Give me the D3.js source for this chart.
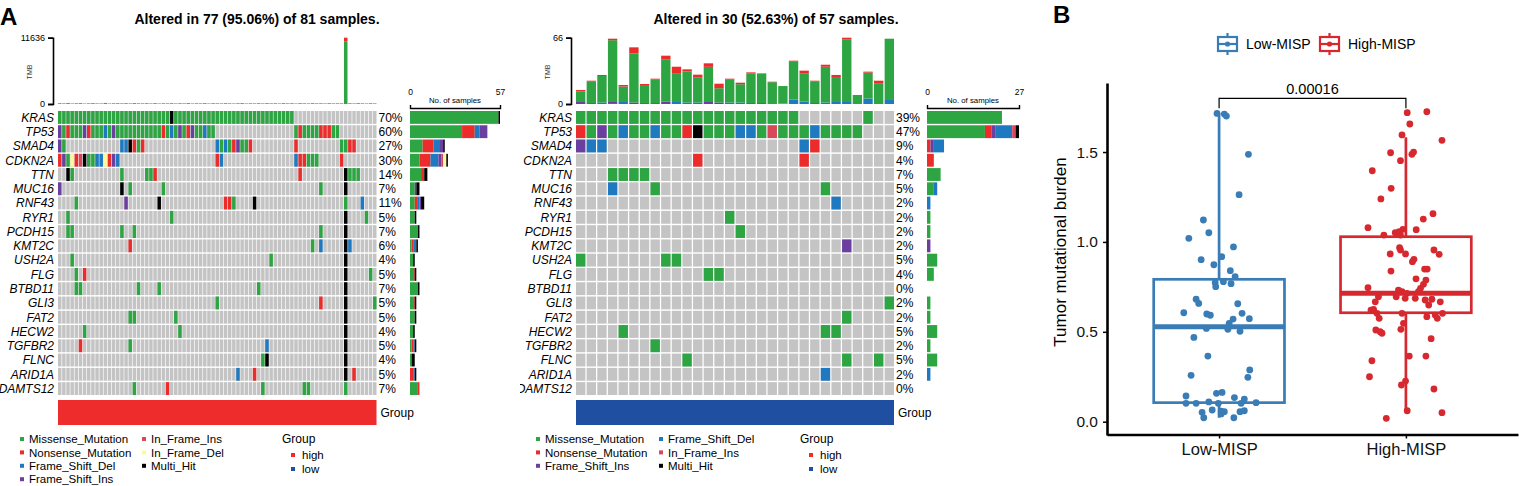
<!DOCTYPE html>
<html>
<head>
<meta charset="utf-8">
<script src="https://cdn.jsdelivr.net/npm/d3@7"></script>
<style>
  body { margin: 0; background: #fff; }
  text { font-family: "Liberation Sans", Arial, Helvetica, sans-serif; }
</style>
</head>
<body>
<svg id="fig" width="1519" height="486"></svg>
<script>
// ---------- data ----------
var genes = ["KRAS","TP53","SMAD4","CDKN2A","TTN","MUC16","RNF43","RYR1","PCDH15","KMT2C",
             "USH2A","FLG","BTBD11","GLI3","FAT2","HECW2","TGFBR2","FLNC","ARID1A","ADAMTS12"];

// variant classes: M missense, N nonsense, D frame shift del, I frame shift ins,
// R in frame ins, L in frame del, H multi hit
var vcNames = {M:"Missense_Mutation", N:"Nonsense_Mutation", D:"Frame_Shift_Del", I:"Frame_Shift_Ins",
               R:"In_Frame_Ins", L:"In_Frame_Del", H:"Multi_Hit"};
var vcColors = {M:"#2ea543", N:"#ec2b2b", D:"#1f79c0", I:"#6b3f9f", R:"#d9475b", L:"#fafa9c", H:"#000000"};

// high group: 81 samples, 77 altered -> [from col, to col, class] per gene
var mutHigh = [
  [[0,26,"M"],[27,27,"H"],[28,56,"M"]],
  [[0,0,"I"],[1,1,"M"],[2,2,"N"],[3,5,"M"],[6,6,"I"],[7,7,"N"],[8,10,"M"],[11,11,"D"],[12,12,"M"],
   [13,13,"I"],[14,24,"M"],[25,25,"N"],[26,26,"M"],[27,27,"D"],[28,28,"M"],[29,29,"I"],[30,30,"M"],
   [31,31,"N"],[32,32,"I"],[33,34,"M"],[35,35,"D"],[36,37,"M"],[57,57,"M"],[58,58,"N"],[59,62,"M"],
   [63,65,"N"],[66,67,"M"]],
  [[0,0,"I"],[1,1,"M"],[15,16,"D"],[17,17,"H"],[18,18,"N"],[19,19,"M"],[20,20,"N"],[38,38,"D"],
   [39,39,"M"],[40,40,"D"],[41,41,"M"],[42,42,"N"],[43,43,"I"],[44,45,"M"],[46,46,"N"],[57,57,"N"],
   [68,69,"M"],[70,71,"N"]],
  [[0,0,"N"],[1,1,"I"],[2,2,"M"],[3,3,"L"],[4,4,"N"],[5,5,"R"],[6,6,"H"],[7,8,"M"],[9,10,"D"],
   [11,11,"L"],[12,12,"N"],[13,13,"I"],[14,14,"D"],[38,38,"N"],[39,39,"D"],[57,57,"D"],[58,59,"N"],
   [60,62,"M"],[68,68,"N"]],
  [[2,2,"H"],[3,3,"M"],[15,15,"M"],[21,22,"M"],[23,23,"N"],[58,58,"N"],[69,69,"H"],[70,72,"M"]],
  [[0,0,"I"],[15,15,"H"],[17,17,"M"],[25,25,"M"],[63,63,"M"],[69,69,"H"]],
  [[4,4,"M"],[16,16,"I"],[24,24,"H"],[40,41,"N"],[42,42,"M"],[47,47,"H"],[69,69,"M"],[73,73,"D"]],
  [[2,2,"M"],[27,27,"M"],[69,69,"H"],[74,74,"M"]],
  [[2,3,"M"],[15,15,"M"],[18,18,"M"],[63,63,"M"],[69,69,"H"]],
  [[17,17,"N"],[61,61,"M"],[63,63,"D"],[69,69,"H"],[70,70,"D"]],
  [[3,3,"M"],[51,51,"M"],[69,69,"H"]],
  [[4,4,"M"],[6,6,"N"],[69,69,"H"],[75,75,"M"]],
  [[4,5,"M"],[19,19,"M"],[24,24,"M"],[48,48,"M"],[69,69,"H"]],
  [[38,38,"M"],[63,63,"N"],[69,69,"H"],[76,76,"M"]],
  [[17,18,"M"],[28,28,"M"],[69,69,"H"]],
  [[6,6,"M"],[29,29,"M"],[69,69,"H"]],
  [[5,5,"N"],[17,17,"M"],[50,50,"D"],[69,69,"H"]],
  [[49,49,"M"],[50,50,"H"],[69,69,"H"]],
  [[43,43,"D"],[47,47,"N"],[69,69,"H"],[71,71,"N"]],
  [[18,18,"M"],[26,26,"N"],[49,49,"M"],[59,60,"M"],[69,69,"M"]]
];

// low group: 57 samples, 30 altered
var mutLow = [
  [[0,20,"M"],[27,27,"M"]],
  [[0,0,"N"],[1,1,"M"],[2,2,"I"],[3,3,"M"],[4,4,"D"],[5,6,"M"],[7,7,"D"],[8,9,"M"],[10,10,"N"],
   [11,11,"H"],[12,14,"M"],[15,16,"D"],[17,17,"M"],[18,18,"R"],[19,21,"M"],[22,22,"D"],[23,26,"M"]],
  [[0,0,"I"],[1,2,"D"],[21,21,"D"],[22,22,"N"]],
  [[11,11,"N"],[21,21,"N"]],
  [[3,6,"M"]],
  [[3,3,"D"],[7,7,"M"],[23,23,"M"]],
  [[24,24,"D"]],
  [[14,14,"M"]],
  [[15,15,"M"]],
  [[25,25,"I"]],
  [[0,0,"M"],[8,9,"M"]],
  [[12,13,"M"]],
  [],
  [[29,29,"M"]],
  [[25,25,"M"]],
  [[4,4,"M"],[23,24,"M"]],
  [[7,7,"M"]],
  [[10,10,"M"],[25,25,"M"],[28,28,"M"]],
  [[23,23,"D"]],
  []
];

// TMB per altered sample (stacked by class)
var tmbHighMis = [120, 95, 150, 80, 110, 140, 70, 100, 130, 90,
                  85, 160, 75, 105, 115, 95, 125, 88, 140, 102,
                  96, 118, 84, 132, 76, 108, 99, 121, 87, 113,
                  94, 137, 81, 106, 92, 128, 79, 117, 101, 89,
                  124, 97, 83, 111, 135, 78, 104, 91, 119, 86,
                  127, 93, 109, 82, 131, 98, 114, 77, 122, 100,
                  88, 126, 95, 107, 84, 118, 90, 103, 96, 10950,
                  112, 85, 129, 97, 80, 116, 92];
var tmbHighNon = [20, 15, 30, 10, 25, 18, 12, 22, 28, 16,
                  14, 26, 11, 19, 24, 17, 21, 13, 27, 15,
                  18, 23, 12, 25, 14, 20, 16, 22, 13, 19,
                  17, 24, 12, 21, 15, 26, 11, 20, 18, 14,
                  23, 16, 13, 19, 25, 12, 20, 15, 22, 14,
                  24, 17, 19, 13, 26, 16, 21, 12, 23, 18,
                  15, 22, 17, 19, 13, 24, 16, 20, 18, 686,
                  21, 14, 25, 17, 12, 22, 16];
var tmbLowMis = [10.4, 21.2, 26.4, 61.5, 15.4, 48.9, 17.9, 23.2, 42.1, 28.1,
                 31.0, 24.7, 35.0, 14.2, 22.7, 18.2, 29.5, 29.5, 21.7, 17.4,
                 37.6, 27.7, 21.2, 35.6, 24.9, 62.5, 9.0, 25.7, 20.7, 61.0];
var tmbLowNon = [1.5, 1, 1, 1.5, 1.5, 6, 1, 1, 3.5, 7,
                 2, 3, 3.5, 4.5, 1, 1.5, 1, 0, 0.5, 0,
                 1, 3, 1, 2, 2, 1.5, 0, 1, 2.5, 0];
var tmbLowDel = [0, 1, 1.5, 1, 2, 0, 1, 1, 0, 2,
                 1.5, 1.5, 0, 0, 1.5, 1.5, 1, 1, 0, 0.5,
                 4.5, 2.5, 1, 1.5, 2, 2, 0, 5.5, 0, 4];
var tmbLowIns = [2, 0, 0, 1, 0, 1.5, 0, 0, 2.5, 0,
                 0, 0, 2, 1.5, 0, 0, 0, 0, 0, 0,
                 0, 0, 0, 0, 0, 0, 0, 0, 0, 0];

// panel B
var groupsB = ["Low-MISP", "High-MISP"];
var colorsB = ["#3a7cb6", "#d7282f"];
var boxLo  = [0.022, 0.047];
var boxQ1  = [0.106, 0.606];
var boxMed = [0.528, 0.714];
var boxQ3  = [0.792, 1.029];
var boxHi  = [1.715, 1.582];
var pValue = "0.00016";
var tmbB_low = [1.715,1.711,1.700,1.487,1.263,1.122,1.051,1.020,0.972,0.901,0.918,0.873,0.840,0.807,
  0.773,0.751,0.779,0.768,0.681,0.658,0.656,0.606,0.599,0.592,0.603,0.571,0.573,0.547,0.519,0.514,
  0.503,0.469,0.365,0.288,0.247,0.258,0.158,0.163,0.143,0.134,0.126,0.102,0.102,0.110,0.102,0.106,
  0.065,0.052,0.059,0.056,0.056,0.061,0.022,0.022,0.043,0.102];
var jitB_low = [-0.011,0.028,0.039,0.157,0.107,-0.084,-0.055,-0.162,0.077,-0.096,0.014,-0.028,0.060,0.086,
  -0.021,-0.018,0.023,0.064,-0.123,-0.109,0.100,-0.189,-0.066,-0.047,0.123,0.075,0.162,0.054,-0.068,0.047,
  0.112,-0.135,-0.060,0.164,0.154,-0.150,-0.014,0.016,-0.177,0.082,0.135,-0.177,-0.123,-0.055,0.118,0.198,
  -0.037,-0.091,0.011,0.028,0.112,0.135,-0.082,0.079,0.011,-0.004];
var tmbB_high = [1.719,1.724,1.656,1.595,1.565,1.496,1.487,1.500,1.452,1.396,1.298,1.239,1.157,1.127,
  1.079,1.068,1.051,1.057,1.070,1.038,1.038,0.968,0.955,0.933,0.933,0.955,0.931,0.903,0.890,0.849,
  0.849,0.838,0.795,0.788,0.764,0.745,0.742,0.732,0.723,0.723,0.714,0.695,0.686,0.686,0.695,0.667,
  0.677,0.681,0.667,0.649,0.625,0.621,0.603,0.603,0.593,0.603,0.575,0.584,0.575,0.547,0.510,0.492,
  0.501,0.514,0.462,0.365,0.365,0.339,0.250,0.226,0.204,0.182,0.061,0.050,0.019];
var jitB_high = [0.007,0.112,0.021,-0.021,0.193,-0.082,0.032,0.041,-0.029,-0.180,-0.079,-0.134,0.145,0.093,
  -0.203,0.055,-0.057,-0.036,-0.016,-0.118,-0.029,-0.034,-0.029,-0.084,-0.002,0.150,0.178,0.043,0.035,0.100,
  0.114,-0.080,0.054,0.107,0.094,-0.203,0.078,-0.040,-0.021,0.067,0.005,-0.052,-0.004,0.050,-0.147,-0.164,
  0.103,0.139,0.184,0.122,-0.173,-0.187,-0.155,-0.021,0.157,0.196,-0.143,0.112,0.168,-0.013,-0.161,-0.128,
  -0.138,-0.027,0.135,0.018,0.107,-0.182,-0.195,-0.002,-0.024,0.150,0.007,0.193,-0.105];

// ---------- drawing ----------
var svg = d3.select("#fig");
var defs = svg.append("defs");
defs.append("clipPath").attr("id", "clipR")
  .append("rect").attr("x", 520).attr("y", 0).attr("width", 515).attr("height", 486);

var rowTop = 111, rowBot = 395;

function oncoplot(p) {
  var g = svg.append("g");
  if (p.clip) g.attr("clip-path", "url(#" + p.clip + ")");
  var nCols = p.tmb.M.length;
  var xb = d3.scaleBand().domain(d3.range(nCols)).range([p.x0, p.x1]).paddingInner(p.colPad);
  var yb = d3.scaleBand().domain(genes).range([rowTop, rowBot]).paddingInner(0.1);

  // title
  g.append("text").attr("x", p.titleX).attr("y", 24).attr("text-anchor", "middle")
    .attr("font-size", 14).attr("font-weight", "bold").text(p.title);

  // TMB stacked bars
  var keys = ["D", "I", "M", "N"];
  var rows = d3.range(nCols).map(function(i) {
    var o = {col: i};
    keys.forEach(function(k) { o[k] = p.tmb[k] ? p.tmb[k][i] : 0; });
    return o;
  });
  var tmbMax = d3.max(rows, function(r) { return r.D + r.I + r.M + r.N; });
  var yt = d3.scaleLinear().domain([0, tmbMax]).range([104, 37.7]);
  d3.stack().keys(keys)(rows).forEach(function(s) {
    g.append("g").selectAll("rect").data(s).join("rect")
      .attr("x", function(d) { return xb(d.data.col); })
      .attr("width", xb.bandwidth())
      .attr("y", function(d) { return yt(d[1]); })
      .attr("height", function(d) { return Math.max(0, yt(d[0]) - yt(d[1])); })
      .attr("fill", vcColors[s.key]);
  });
  var ax = g.append("g").attr("transform", "translate(" + (p.x0 - 5) + ",0)")
    .call(d3.axisLeft(yt).tickValues([0, tmbMax]).tickFormat(d3.format("d")).tickSize(5).tickSizeOuter(5).tickPadding(3));
  ax.select(".domain").attr("stroke-width", 1.6);
  ax.selectAll(".tick line").attr("stroke-width", 1.6);
  ax.selectAll("text").attr("font-size", 9).attr("font-family", "Liberation Sans, Arial, sans-serif");
  g.append("text").attr("transform", "translate(" + (p.x0 - 26) + ",72) rotate(-90)")
    .attr("text-anchor", "middle").attr("font-size", 7).attr("fill", "#333").text("TMB");

  // background cells
  var cells = [];
  genes.forEach(function(gn) { d3.range(nCols).forEach(function(c) { cells.push({gene: gn, col: c}); }); });
  g.append("g").selectAll("rect").data(cells).join("rect")
    .attr("x", function(d) { return xb(d.col); }).attr("y", function(d) { return yb(d.gene); })
    .attr("width", xb.bandwidth()).attr("height", yb.bandwidth()).attr("fill", "#c4c4c4");

  // mutation cells
  var muts = [];
  p.muts.forEach(function(list, gi) {
    list.forEach(function(m) {
      for (var c = m[0]; c <= m[1]; c++) muts.push({gene: genes[gi], col: c, type: m[2]});
    });
  });
  g.append("g").selectAll("rect").data(muts).join("rect")
    .attr("x", function(d) { return xb(d.col); }).attr("y", function(d) { return yb(d.gene); })
    .attr("width", xb.bandwidth()).attr("height", yb.bandwidth())
    .attr("fill", function(d) { return vcColors[d.type]; });

  // gene labels and percentages
  var counts = d3.rollup(muts, function(v) { return v.length; }, function(d) { return d.gene; });
  g.append("g").selectAll("text").data(genes).join("text")
    .attr("x", p.x0 - 4).attr("y", function(d) { return yb(d) + yb.bandwidth() / 2; })
    .attr("dy", "0.36em").attr("text-anchor", "end").attr("font-size", 12).attr("font-style", "italic")
    .text(function(d) { return d; });
  g.append("g").selectAll("text").data(genes).join("text")
    .attr("x", p.x1 + 2).attr("y", function(d) { return yb(d) + yb.bandwidth() / 2; })
    .attr("dy", "0.36em").attr("font-size", 12)
    .text(function(d) { return Math.round((counts.get(d) || 0) / p.nSamples * 100) + "%"; });

  // side bars: number of samples by class
  var order = p.legend[0].concat(p.legend[1]);
  var maxCount = d3.max(genes, function(d) { return counts.get(d) || 0; });
  var xs = d3.scaleLinear().domain([0, maxCount]).range([p.sx0, p.sx1]);
  var segs = [];
  genes.forEach(function(gn) {
    var acc = 0;
    order.forEach(function(t) {
      var n = muts.filter(function(m) { return m.gene === gn && m.type === t; }).length;
      if (n > 0) { segs.push({gene: gn, type: t, a: acc, b: acc + n}); acc += n; }
    });
  });
  g.append("g").selectAll("rect").data(segs).join("rect")
    .attr("x", function(d) { return xs(d.a); }).attr("width", function(d) { return xs(d.b) - xs(d.a); })
    .attr("y", function(d) { return yb(d.gene); }).attr("height", yb.bandwidth())
    .attr("fill", function(d) { return vcColors[d.type]; });
  var sa = g.append("g").attr("transform", "translate(0,108)")
    .call(d3.axisTop(xs).tickValues([0, maxCount]).tickSize(3).tickSizeOuter(3).tickPadding(10));
  sa.select(".domain").attr("stroke-width", 1.4);
  sa.selectAll("text").attr("font-size", 8.5).attr("font-family", "Liberation Sans, Arial, sans-serif");
  g.append("text").attr("x", (p.sx0 + p.sx1) / 2).attr("y", 103).attr("text-anchor", "middle")
    .attr("font-size", 7.8).text("No. of samples");

  // group annotation
  g.append("rect").attr("x", p.x0).attr("y", 400).attr("width", p.x1 - p.x0).attr("height", 25)
    .attr("fill", p.groupColor);
  g.append("text").attr("x", p.x1 + 4).attr("y", 413).attr("dy", "0.36em").attr("font-size", 12).text("Group");

  // legend
  var lg = g.append("g");
  p.legend.forEach(function(colItems, ci) {
    colItems.forEach(function(t, ri) {
      var yy = 439 + ri * 13.4;
      lg.append("rect").attr("x", p.legX[ci]).attr("y", yy - 2).attr("width", 4).attr("height", 4)
        .attr("fill", vcColors[t]);
      lg.append("text").attr("x", p.legX[ci] + 9).attr("y", yy).attr("dy", "0.36em")
        .attr("font-size", 11.5).text(vcNames[t]);
    });
  });
  lg.append("text").attr("x", p.grpX).attr("y", 439).attr("dy", "0.36em").attr("font-size", 12).text("Group");
  [["high", "#ec2b2b"], ["low", "#1f4fa1"]].forEach(function(it, i) {
    var yy = 455 + i * 14;
    lg.append("rect").attr("x", p.grpX + 9).attr("y", yy - 2).attr("width", 4).attr("height", 4).attr("fill", it[1]);
    lg.append("text").attr("x", p.grpX + 20).attr("y", yy).attr("dy", "0.36em").attr("font-size", 11.5).text(it[0]);
  });
}

oncoplot({
  title: "Altered in 77 (95.06%) of 81 samples.", titleX: 257, nSamples: 81,
  muts: mutHigh, tmb: {M: tmbHighMis, N: tmbHighNon},
  x0: 58, x1: 376.5, colPad: 0.16, sx0: 410, sx1: 500,
  groupColor: "#ee2c2c",
  legend: [["M", "N", "D", "I"], ["R", "L", "H"]], legX: [20, 142], grpX: 282
});
oncoplot({
  title: "Altered in 30 (52.63%) of 57 samples.", titleX: 776, nSamples: 57, clip: "clipR",
  muts: mutLow, tmb: {M: tmbLowMis, N: tmbLowNon, D: tmbLowDel, I: tmbLowIns},
  x0: 576, x1: 894, colPad: 0.12, sx0: 927, sx1: 1019,
  groupColor: "#1f4fa1",
  legend: [["M", "N", "I"], ["D", "R", "H"]], legX: [536, 659], grpX: 800
});

// panel labels
svg.append("text").attr("x", 0).attr("y", 25).attr("font-size", 24).attr("font-weight", "bold").text("A");
svg.append("text").attr("x", 1053).attr("y", 23).attr("font-size", 24).attr("font-weight", "bold").text("B");

// ---------- panel B: boxplot ----------
(function() {
  var g = svg.append("g");
  var x = d3.scalePoint().domain(groupsB).range([1107, 1518]).padding(0.6);
  var step = x.step();
  var y = d3.scaleLinear().domain([-0.074, 1.884]).range([435, 83]);
  var boxW = 0.7 * step;

  var ya = g.append("g").attr("transform", "translate(1107,0)")
    .call(d3.axisLeft(y).tickValues([0, 0.5, 1, 1.5]).tickFormat(d3.format(".1f")).tickSize(4).tickSizeOuter(0).tickPadding(5));
  ya.select(".domain").attr("stroke-width", 2.6);
  ya.selectAll(".tick line").attr("stroke-width", 1.5);
  ya.selectAll("text").attr("font-size", 15.5).attr("fill", "#111").attr("font-family", "Liberation Sans, Arial, sans-serif");
  var xa = g.append("g").attr("transform", "translate(0,434.5)")
    .call(d3.axisBottom(x).tickSize(4).tickSizeOuter(0).tickPadding(5));
  xa.select(".domain").attr("stroke-width", 2.6);
  xa.selectAll(".tick line").attr("stroke-width", 1.5);
  xa.selectAll("text").attr("font-size", 16.5).attr("fill", "#111").attr("font-family", "Liberation Sans, Arial, sans-serif");

  g.append("text").attr("transform", "translate(1066,252) rotate(-90)").attr("text-anchor", "middle")
    .attr("font-size", 17).text("Tumor mutational burden");

  // boxes
  groupsB.forEach(function(gr, i) {
    var cx = x(gr), col = colorsB[i];
    g.append("line").attr("x1", cx).attr("x2", cx).attr("y1", y(boxHi[i])).attr("y2", y(boxQ3[i]))
      .attr("stroke", col).attr("stroke-width", 2.7);
    g.append("line").attr("x1", cx).attr("x2", cx).attr("y1", y(boxQ1[i])).attr("y2", y(boxLo[i]))
      .attr("stroke", col).attr("stroke-width", 2.7);
    g.append("rect").attr("x", cx - boxW / 2).attr("width", boxW)
      .attr("y", y(boxQ3[i])).attr("height", y(boxQ1[i]) - y(boxQ3[i]))
      .attr("fill", "none").attr("stroke", col).attr("stroke-width", 2.7);
    g.append("line").attr("x1", cx - boxW / 2).attr("x2", cx + boxW / 2)
      .attr("y1", y(boxMed[i])).attr("y2", y(boxMed[i])).attr("stroke", col).attr("stroke-width", 5);
  });

  // jittered points
  var pts = [];
  tmbB_low.forEach(function(v, i) { pts.push({g: 0, v: v, j: jitB_low[i]}); });
  tmbB_high.forEach(function(v, i) { pts.push({g: 1, v: v, j: jitB_high[i]}); });
  g.append("g").selectAll("circle").data(pts).join("circle")
    .attr("cx", function(d) { return x(groupsB[d.g]) + d.j * step; })
    .attr("cy", function(d) { return y(d.v); })
    .attr("r", 3.4).attr("fill", function(d) { return colorsB[d.g]; });

  // significance bracket
  var x1 = x(groupsB[0]), x2 = x(groupsB[1]), yb = 98.3;
  g.append("path").attr("d", "M" + x1 + "," + (yb + 10) + "V" + yb + "H" + x2 + "V" + (yb + 10))
    .attr("fill", "none").attr("stroke", "#000").attr("stroke-width", 1.2);
  g.append("text").attr("x", (x1 + x2) / 2).attr("y", yb - 4).attr("text-anchor", "middle")
    .attr("font-size", 14.5).text(pValue);

  // legend
  var legXs = [1218, 1320];
  groupsB.forEach(function(gr, i) {
    var lx = legXs[i], col = colorsB[i];
    var k = g.append("g");
    k.append("line").attr("x1", lx + 9.5).attr("x2", lx + 9.5).attr("y1", 33).attr("y2", 55)
      .attr("stroke", col).attr("stroke-width", 2.2);
    k.append("rect").attr("x", lx).attr("y", 37).attr("width", 19).attr("height", 14)
      .attr("fill", "#fff").attr("stroke", col).attr("stroke-width", 2.2);
    k.append("line").attr("x1", lx).attr("x2", lx + 19).attr("y1", 44).attr("y2", 44)
      .attr("stroke", col).attr("stroke-width", 2.2);
    k.append("circle").attr("cx", lx + 9.5).attr("cy", 44).attr("r", 2.6).attr("fill", col);
    k.append("text").attr("x", lx + 28).attr("y", 44).attr("dy", "0.36em").attr("font-size", 14).text(gr);
  });
})();
</script>
</body>
</html>
